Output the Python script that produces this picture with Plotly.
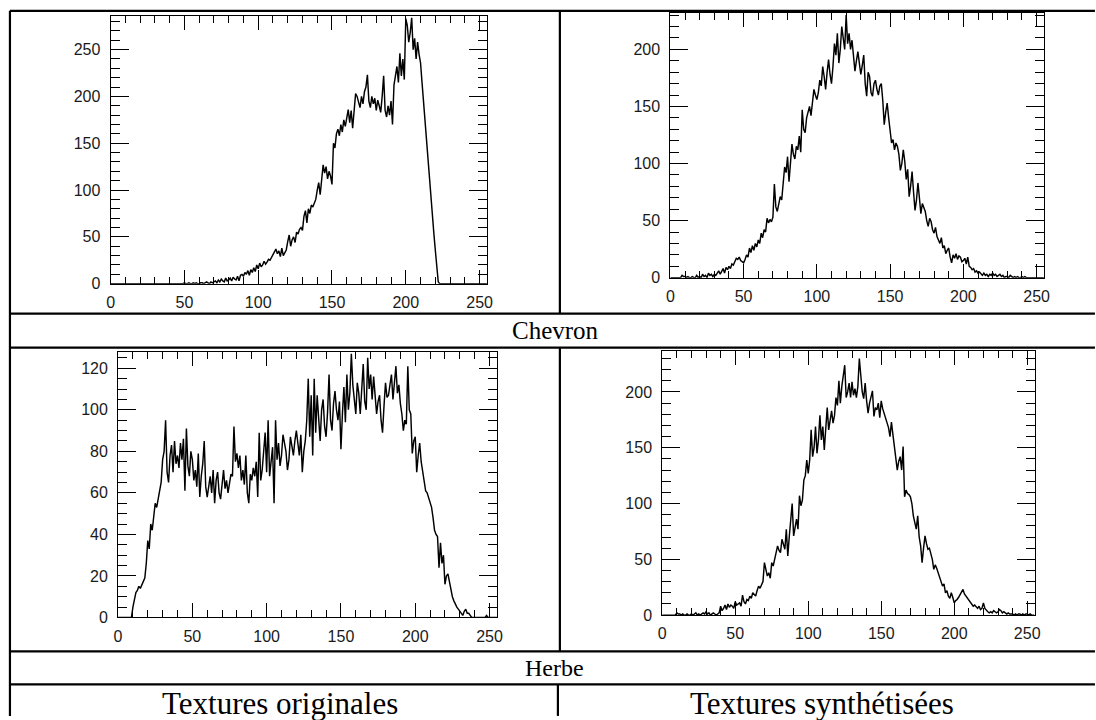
import plotly.graph_objects as go

# ---------------- data (gray level histograms) ----------------
gray_levels = list(range(256))

chevron_originale = [
    0, 0, 0, 0, 0, 0, 0, 0, 0, 0,
    0, 0, 0, 0, 0, 0, 0, 0, 0, 0,
    0, 0, 0, 0, 0, 0, 0, 0, 0, 0,
    0, 0, 0, 0, 0, 0, 0, 0, 0, 0,
    0, 0, 0, 0, 0, 0, 0, 0, 0, 0,
    1, 0, 0, 1, 0, 0, 1, 0, 1, 0,
    0, 1, 1, 0, 1, 2, 1, 0, 2, 1,
    2, 3, 1, 4, 2, 5, 3, 2, 6, 3,
    4, 6, 3, 7, 5, 4, 8, 3, 9, 10,
    8, 12, 10, 14, 9, 15, 12, 17, 13, 20,
    16, 22, 18, 20, 24, 21, 23, 26, 25, 28,
    30, 34, 37, 32, 35, 29, 38, 30, 33, 36,
    45, 52, 40, 47, 50, 44, 55, 53, 58, 60,
    57, 72, 78, 65, 80, 75, 84, 82, 86, 90,
    100, 108, 95, 112, 127, 118, 125, 112, 120, 115,
    106, 150, 145, 160, 165, 158, 170, 162, 175, 168,
    180, 186, 172, 185, 166, 190, 203, 200, 195, 188,
    200, 192, 205, 210, 223, 195, 188, 200, 192, 198,
    185, 196, 190, 183, 200, 222, 185, 178, 190, 180,
    195, 170, 212, 225, 232, 215, 246, 222, 240, 218,
    283, 276, 258, 268, 284, 250, 262, 240, 258, 245,
    236, 215, 194, 173, 152, 132, 112, 92, 73, 54,
    36, 18, 2, 0, 0, 0, 0, 0, 0, 0,
    0, 0, 0, 0, 0, 0, 0, 0, 0, 0,
    0, 0, 0, 0, 0, 0, 0, 0, 0, 0,
    0, 0, 0, 0, 0, 0,
]

chevron_synthetisee = [
    0, 0, 0, 0, 0, 0, 0, 0, 2, 1,
    1, 0, 1, 0, 0, 1, 0, 0, 2, 0,
    1, 0, 3, 1, 2, 0, 4, 2, 3, 1,
    3, 2, 4, 6, 3, 5, 8, 4, 9, 7,
    10, 8, 12, 11, 14, 17, 16, 18, 15, 14,
    13, 16, 20, 18, 26, 22, 28, 24, 30, 27,
    33, 30, 39, 35, 42, 40, 52, 48, 51, 49,
    53, 82, 62, 58, 66, 71, 68, 80, 97, 92,
    106, 84, 100, 117, 108, 104, 115, 112, 124, 110,
    147, 130, 127, 140, 145, 150, 142, 155, 165, 160,
    156, 162, 173, 168, 185, 176, 165, 180, 191, 178,
    170, 185, 205, 195, 214, 188, 200, 220, 210, 200,
    230, 205, 214, 200, 208, 195, 181, 190, 198, 188,
    178, 186, 195, 170, 159, 180, 176, 162, 159, 170,
    173, 165, 160, 168, 170, 155, 134, 145, 153, 140,
    127, 118, 121, 112, 118, 115, 108, 94, 100, 112,
    102, 86, 95, 71, 80, 93, 75, 59, 68, 83,
    70, 56, 65, 62, 58, 50, 45, 52, 49, 42,
    39, 44, 36, 33, 30, 35, 26, 28, 21, 24,
    26, 18, 13, 20, 17, 21, 16, 19, 18, 14,
    15, 17, 12, 18, 10, 9, 7, 8, 5, 6,
    4, 5, 3, 2, 4, 2, 3, 1, 3, 2,
    4, 2, 3, 1, 2, 3, 1, 2, 0, 1,
    1, 0, 2, 1, 0, 1, 0, 1, 0, 0,
    1, 0, 1, 0, 0, 0, 0, 0, 0, 0,
    0, 0, 0, 0, 0, 0,
]

herbe_originale = [
    0, 0, 0, 0, 0, 0, 0, 0, 0, 0,
    5, 8, 12, 13, 15, 14, 16, 18, 19, 26,
    37, 33, 45, 42, 50, 55, 53, 57, 60, 65,
    76, 80, 95, 70, 65, 78, 83, 70, 85, 74,
    78, 72, 84, 76, 86, 61, 91, 73, 68, 80,
    76, 66, 71, 63, 79, 58, 68, 74, 85, 63,
    58, 62, 68, 60, 71, 55, 66, 70, 60, 57,
    65, 71, 62, 66, 60, 64, 69, 68, 92, 75,
    79, 72, 78, 66, 71, 64, 78, 60, 55, 69,
    66, 72, 68, 75, 58, 89, 66, 71, 80, 89,
    70, 95, 68, 74, 82, 55, 95, 76, 84, 73,
    78, 88, 84, 80, 71, 76, 87, 82, 78, 85,
    90, 84, 78, 88, 70, 80, 85, 95, 115, 87,
    107, 78, 115, 89, 107, 96, 85, 100, 105, 92,
    87, 99, 117, 95, 90, 103, 109, 100, 95, 104,
    81, 98, 111, 94, 117, 100, 108, 127, 112, 105,
    98, 113, 108, 98, 112, 122, 104, 100, 125, 110,
    117, 105, 116, 108, 98, 104, 107, 95, 89, 102,
    113, 106, 107, 112, 117, 105, 114, 121, 108, 112,
    103, 98, 90, 95, 93, 121, 100, 98, 79, 85,
    87, 70, 78, 84, 75, 70, 65, 61, 60, 58,
    55, 53, 48, 42, 40, 39, 24, 36, 26, 30,
    16, 20, 21, 17, 13, 10, 8, 6, 5, 4,
    3, 2, 1, 3, 4, 2, 2, 1, 0, 0,
    0, 0, 0, 0, 0, 0, 0, 0, 1, 0,
    0, 0, 0, 0, 0, 0,
]

herbe_synthetisee = [
    0, 0, 0, 0, 0, 0, 0, 0, 0, 0,
    2, 1, 1, 0, 1, 0, 0, 1, 0, 0,
    1, 0, 1, 2, 0, 1, 0, 1, 2, 1,
    3, 1, 2, 0, 1, 2, 1, 0, 1, 2,
    8, 4, 6, 9, 5, 10, 7, 9, 8, 6,
    12, 9, 10, 11, 8, 18, 12, 10, 14, 13,
    17, 15, 20, 18, 17, 22, 26, 24, 27, 30,
    47, 40, 35, 38, 33, 47, 44, 50, 55, 62,
    58, 56, 68, 64, 59, 77, 53, 70, 89, 100,
    71, 80, 86, 77, 107, 98, 103, 121, 125, 139,
    127, 139, 166, 142, 150, 169, 145, 157, 179, 157,
    169, 148, 170, 186, 166, 175, 183, 172, 179, 195,
    188, 210, 190, 205, 216, 224, 195, 200, 208, 195,
    209, 197, 203, 195, 205, 230, 215, 200, 194, 208,
    192, 181, 190, 195, 201, 178, 186, 184, 190, 177,
    192, 185, 181, 178, 172, 168, 160, 173, 162, 151,
    145, 130, 138, 142, 130, 151, 106, 112, 109, 108,
    106, 100, 89, 84, 77, 89, 70, 62, 47, 60,
    71, 64, 59, 60, 56, 50, 41, 45, 42, 38,
    35, 30, 26, 28, 20, 22, 17, 15, 20, 16,
    11, 13, 14, 16, 18, 20, 23, 19, 17, 15,
    14, 12, 10, 8, 9, 7, 6, 8, 5, 6,
    11, 6, 4, 3, 2, 3, 2, 4, 3, 2,
    3, 5, 4, 2, 3, 2, 1, 2, 1, 1,
    1, 0, 1, 0, 1, 1, 0, 1, 0, 1,
    1, 0, 1, 0, 0, 0,
]

x_tick_values = [0, 50, 100, 150, 200, 250]
y_ranges = [286, 232, 128, 237]
y_major_steps = [50, 50, 20, 50]
y_minor_steps = [10, 10, 5, 10]
row_labels = ["Chevron", "Herbe"]
column_labels = ["Textures originales", "Textures synthétisées"]

# ---------------- layout helpers ----------------
W, H = 1096, 720


def px(x):
    return x / W


def py(y):
    return 1 - y / H


# axes boxes in pixels: (left, right, top, bottom)
boxes = [
    (107.6, 487.4, 16.1, 287.3),
    (672.5, 1049.5, 13.0, 281.2),
    (115.1, 497.5, 356.1, 625.3),
    (664.3, 1040.0, 355.1, 622.9),
]
series = [chevron_originale, chevron_synthetisee, herbe_originale, herbe_synthetisee]

fig = go.Figure()
tick_font = dict(family="Liberation Sans, Arial, sans-serif", size=16, color="#1a1a1a")

for i, (vals, box) in enumerate(zip(series, boxes)):
    n = "" if i == 0 else str(i + 1)
    fig.add_trace(go.Scatter(
        x=gray_levels, y=vals, mode="lines",
        line=dict(color="black", width=1.45),
        xaxis="x" + n, yaxis="y" + n, hoverinfo="skip", showlegend=False,
    ))
    l, r, t, b = box
    fig.update_layout(**{
        "xaxis" + n: dict(
            domain=[px(l), px(r)], anchor="y" + n, range=[0, 255],
            tickmode="array", tickvals=x_tick_values,
            ticks="inside", ticklen=14, tickwidth=1, tickcolor="black",
            showline=True, linecolor="black", linewidth=1, mirror="allticks",
            showgrid=False, zeroline=False, tickfont=tick_font,
            ticklabelstandoff=4,
            minor=dict(dtick=10, tick0=0, ticks="inside", ticklen=7,
                       tickwidth=1, tickcolor="black", showgrid=False),
        ),
        "yaxis" + n: dict(
            domain=[py(b), py(t)], anchor="x" + n, range=[0, y_ranges[i]],
            dtick=y_major_steps[i], tick0=0,
            ticks="inside", ticklen=18, tickwidth=1, tickcolor="black",
            showline=True, linecolor="black", linewidth=1, mirror="allticks",
            showgrid=False, zeroline=False, tickfont=tick_font,
            ticklabelstandoff=6,
            minor=dict(dtick=y_minor_steps[i], tick0=0, ticks="inside", ticklen=9,
                       tickwidth=1, tickcolor="black", showgrid=False),
        ),
    })

# ---------------- table rules ----------------
lw = 2.2
lines = [
    (6, 11, W + 5, 11),         # top
    (6, 11, 6, H + 5),          # left
    (561, 11, 561, 317.6),      # divider row 1
    (6, 317.6, W + 5, 317.6),
    (6, 352, W + 5, 352),
    (561, 352, 561, 659.7),     # divider row 2
    (6, 659.7, W + 5, 659.7),
    (6, 693, W + 5, 693),
    (559, 693, 559, H + 5),     # divider bottom row
]
shapes = [dict(type="line", xref="paper", yref="paper",
               x0=px(a), y0=py(b), x1=px(c), y1=py(d),
               line=dict(color="black", width=lw)) for a, b, c, d in lines]

serif = "Liberation Serif, Times New Roman, serif"
annotations = [
    dict(text=row_labels[0], x=px(557), y=py(335), xref="paper", yref="paper",
         showarrow=False, font=dict(family=serif, size=25, color="black"),
         xanchor="center", yanchor="middle"),
    dict(text=row_labels[1], x=px(556), y=py(676), xref="paper", yref="paper",
         showarrow=False, font=dict(family=serif, size=24, color="black"),
         xanchor="center", yanchor="middle"),
    dict(text=column_labels[0], x=px(279), y=py(712), xref="paper", yref="paper",
         showarrow=False, font=dict(family=serif, size=31, color="black"),
         xanchor="center", yanchor="middle"),
    dict(text=column_labels[1], x=px(826), y=py(712), xref="paper", yref="paper",
         showarrow=False, font=dict(family=serif, size=31, color="black"),
         xanchor="center", yanchor="middle"),
]

fig.update_layout(
    width=W, height=H, margin=dict(l=0, r=0, t=0, b=0),
    paper_bgcolor="white", plot_bgcolor="white", showlegend=False,
    shapes=shapes, annotations=annotations,
)

fig.write_html(
    "out.html",
    config={"displayModeBar": False, "staticPlot": True},
    post_script="document.body.style.margin='0';document.body.style.overflow='hidden';",
)
